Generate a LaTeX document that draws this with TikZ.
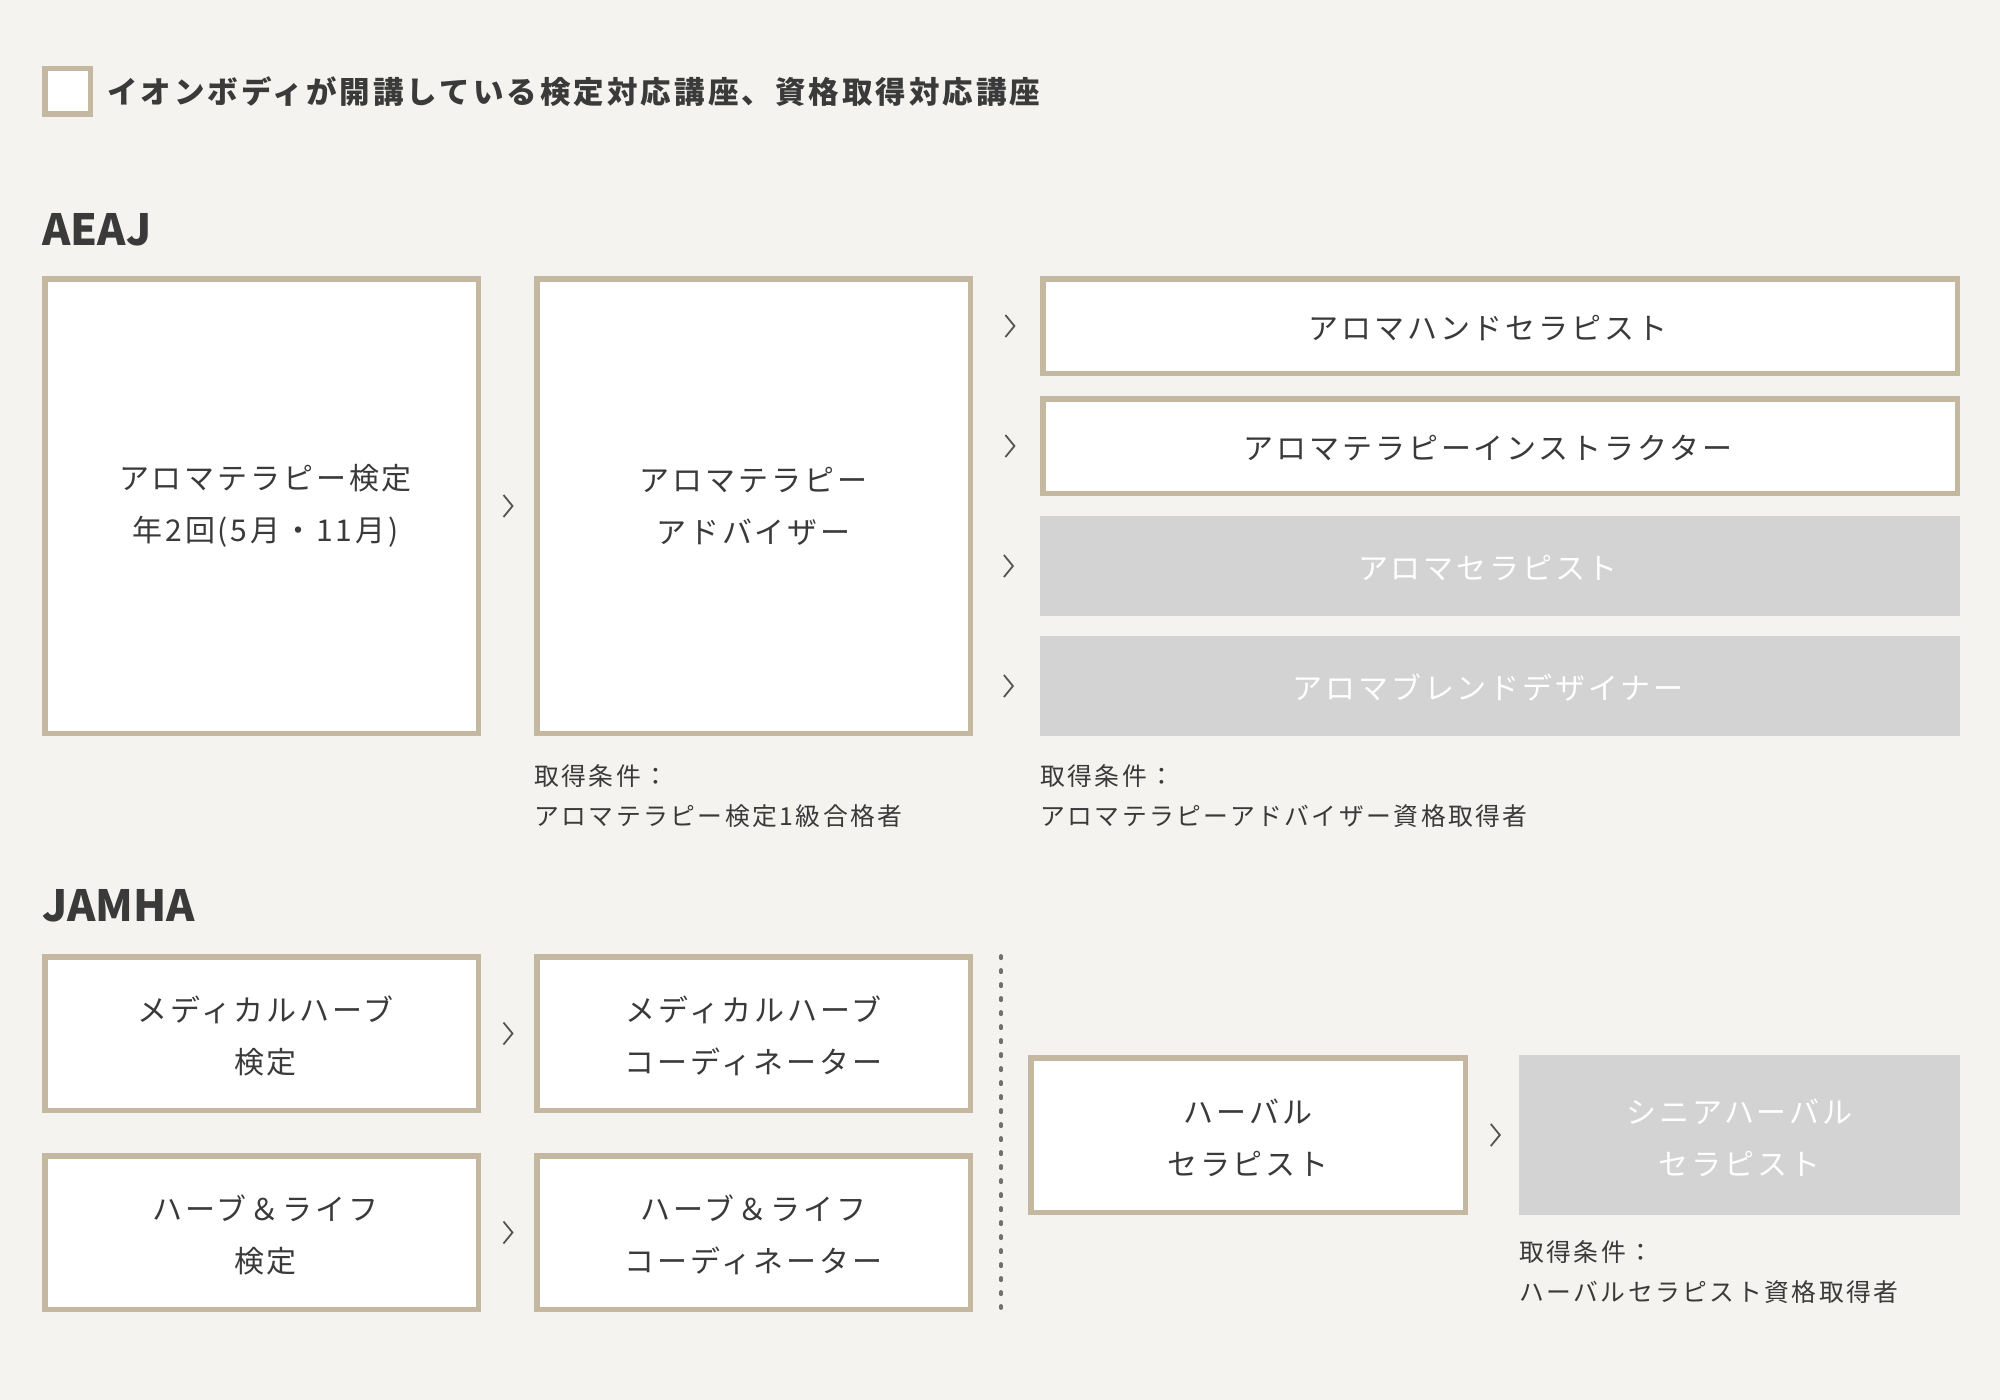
\documentclass[tikz,border=0pt]{standalone}
\usepackage{fontspec}
\setmainfont{Noto Sans CJK JP}
\newfontfamily\jpls{Noto Sans CJK JP}[LetterSpace=10]
\newfontfamily\jpbox{Noto Sans CJK JP}[LetterSpace=9.5]
\newfontfamily\jpplain{Noto Sans CJK JP}
\definecolor{bgc}{HTML}{F4F3EF}
\definecolor{tanc}{HTML}{C4B8A1}
\definecolor{grayc}{HTML}{D3D3D3}
\definecolor{txtc}{HTML}{3A3A3A}
\definecolor{chevc}{HTML}{555555}
\definecolor{dotc}{HTML}{707070}
\tikzset{
  tanbox/.style={draw=tanc, line width=5.5pt, fill=white, inner sep=0pt, outer sep=0pt, text=txtc, align=center,
    font=\jpbox\fontsize{30}{52}\selectfont},
  graybox/.style={fill=grayc, inner sep=0pt, outer sep=0pt, text=white, align=center,
    font=\jpbox\fontsize{30}{52}\selectfont},
  lowtext/.style={execute at begin node={\rule{0pt}{33pt}}, execute at end node={\rule[-5.2pt]{0pt}{0pt}}},
  lowtexttwo/.style={execute at begin node={\rule{0pt}{86pt}}, execute at end node={\rule[-5.2pt]{0pt}{0pt}}},
  caption/.style={anchor=west, inner sep=0pt, text=txtc, align=left, font=\jpls\fontsize{24.8}{40}\selectfont},
  header/.style={anchor=west, inner sep=0pt, text=txtc, font=\jpplain\bfseries\fontsize{43}{50}\selectfont},
  chev/.style={draw=chevc, line width=1.8pt, line join=miter},
}
\newcommand{\chevat}[1]{\draw[chev] ([shift={(-4,-11)}]#1) -- ([shift={(5,0)}]#1) -- ([shift={(-4,11)}]#1);}
\begin{document}
\begin{tikzpicture}[x=1pt, y=-1pt]
\fill[bgc] (0,0) rectangle (2000,1400);
\useasboundingbox (0,0) rectangle (2000,1400);

% legend
\node[tanbox, minimum width=45.5pt, minimum height=45.5pt] (leg) at (67.5,91) {};
\node[anchor=west, inner sep=0pt, text=txtc, font=\jpls\bfseries\fontsize{30.5}{36}\selectfont] (legt) at (107,92)
  {イオンボディが開講している検定対応講座、資格取得対応講座};

% AEAJ
\node[header] (aeaj) at (42,229.5) {AEAJ};
\node[tanbox, minimum width=433.5pt, minimum height=454.5pt] (a1) at (261.5,506) {\hspace*{8pt}アロマテラピー検定\\\hspace*{8pt}年2回(5月・11月)};
\node[tanbox, minimum width=433.5pt, minimum height=454.5pt] (a2) at (753.5,506) {アロマテラピー\\アドバイザー};
\node[tanbox, lowtext, minimum width=914.5pt, minimum height=94.5pt] (r1) at (1500,326) {アロマハンドセラピスト\hspace*{24pt}};
\node[tanbox, lowtext, minimum width=914.5pt, minimum height=94.5pt] (r2) at (1500,446) {アロマテラピーインストラクター\hspace*{24pt}};
\node[graybox, lowtext, minimum width=920pt, minimum height=100pt] (r3) at (1500,566) {アロマセラピスト\hspace*{24pt}};
\node[graybox, lowtext, minimum width=920pt, minimum height=100pt] (r4) at (1500,686) {アロマブレンドデザイナー\hspace*{24pt}};
\node[caption] (cap1) at (534,796) {取得条件：\\アロマテラピー検定1級合格者};
\node[caption] (cap2) at (1040,796) {取得条件：\\アロマテラピーアドバイザー資格取得者};

% chevrons AEAJ
\path (a1.east) -- (a2.west) coordinate[pos=0.5] (ch1);
\chevat{ch1}
\foreach \r in {r1,r2,r3,r4}{
  \path (a2.east |- \r.west) -- (\r.west) coordinate[pos=0.54] (ch\r);
  \chevat{ch\r}
}

% JAMHA
\node[header] (jamha) at (42,906) {JAMHA};
\node[tanbox, lowtexttwo, minimum width=433.5pt, minimum height=153.5pt] (j1) at (261.5,1033.5) {\hspace*{8pt}メディカルハーブ\\\hspace*{8pt}検定};
\node[tanbox, lowtexttwo, minimum width=433.5pt, minimum height=153.5pt] (j2) at (753.5,1033.5) {メディカルハーブ\\コーディネーター};
\node[tanbox, lowtexttwo, minimum width=433.5pt, minimum height=153.5pt] (j3) at (261.5,1232.5) {\hspace*{8pt}ハーブ＆ライフ\\\hspace*{8pt}検定};
\node[tanbox, lowtexttwo, minimum width=433.5pt, minimum height=153.5pt] (j4) at (753.5,1232.5) {ハーブ＆ライフ\\コーディネーター};
\node[tanbox, lowtexttwo, minimum width=434.5pt, minimum height=154.5pt] (h1) at (1248,1135) {ハーバル\\セラピスト};
\node[graybox, lowtexttwo, minimum width=441pt, minimum height=160pt] (h2) at (1739.5,1135) {シニアハーバル\\セラピスト};
\node[caption] (cap3) at (1519,1272) {取得条件：\\ハーバルセラピスト資格取得者};

\path (j1.east) -- (j2.west) coordinate[pos=0.5] (cj1);
\chevat{cj1}
\path (j3.east) -- (j4.west) coordinate[pos=0.5] (cj2);
\chevat{cj2}
\path (h1.east) -- (h2.west) coordinate[pos=0.55] (ch3);
\chevat{ch3}

% dotted separator
\coordinate (sepTop) at (1001,956);
\coordinate (sepBot) at (1001,1308);
\draw[dotc, line width=3.8pt, line cap=round, dash pattern=on 2.2pt off 11.8pt] (sepTop) -- (sepBot);
\end{tikzpicture}
\end{document}
